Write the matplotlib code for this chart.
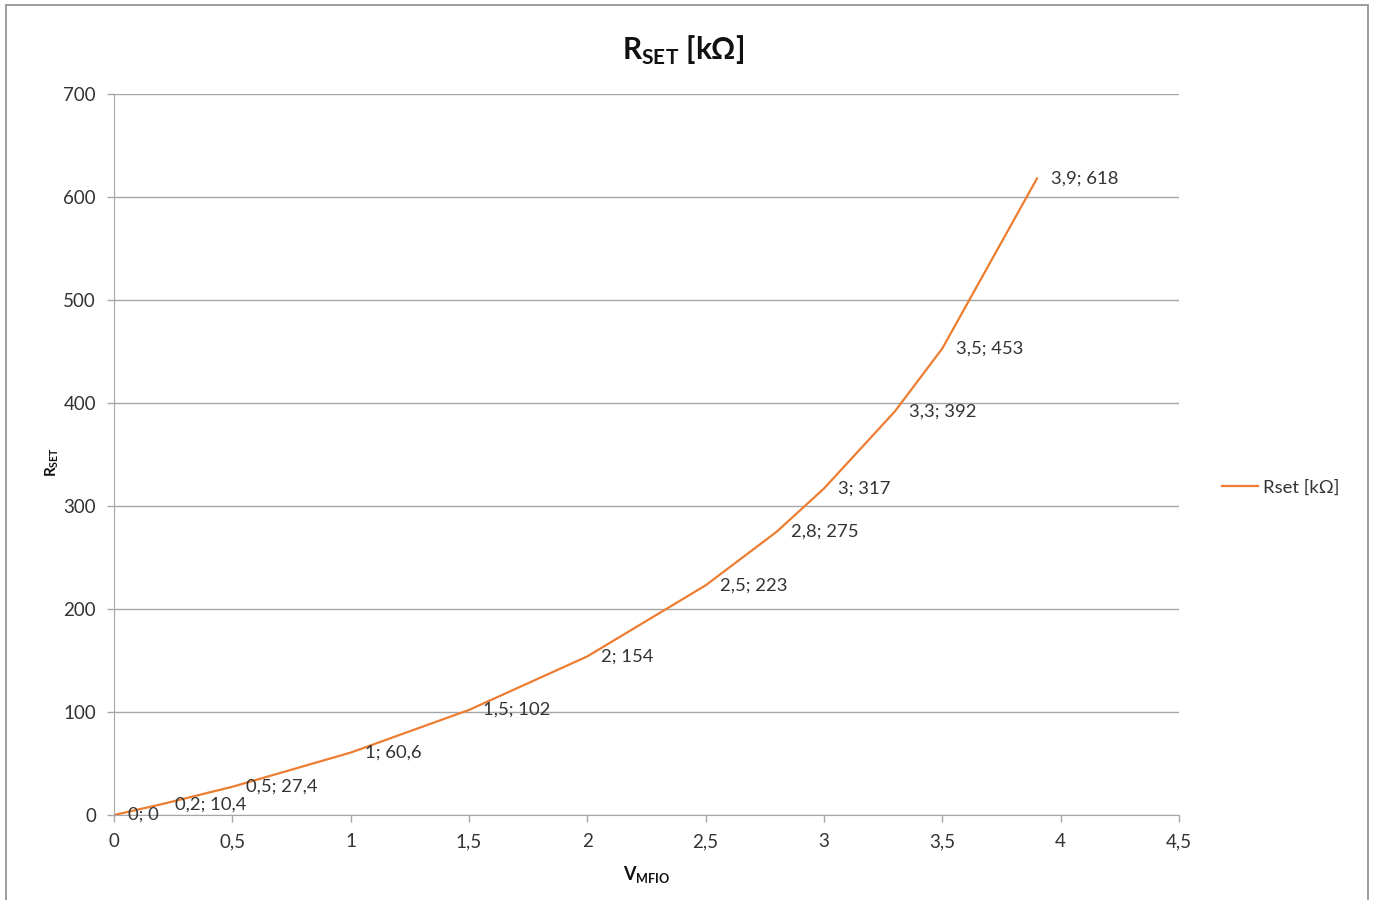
import matplotlib
matplotlib.use("Agg")
import matplotlib.pyplot as plt
from matplotlib.patches import Rectangle
from matplotlib.ticker import FuncFormatter, MultipleLocator

# dati (V_MFIO, R_SET in kOhm)
v_mfio = [0, 0.2, 0.5, 1, 1.5, 2, 2.5, 2.8, 3, 3.3, 3.5, 3.9]
r_set = [0, 10.4, 27.4, 60.6, 102, 154, 223, 275, 317, 392, 453, 618]
serie_nome = "Rset [kΩ]"

plt.rcParams['font.family'] = ['Lato', 'DejaVu Sans']
plt.rcParams['mathtext.fontset'] = 'custom'
plt.rcParams['mathtext.rm'] = 'Lato'
plt.rcParams['mathtext.bf'] = 'Lato:bold'

testo = '#333333'
griglia = '#a6a6a6'
arancio = '#ed7d31'


def virgola(v, pos=None):
    return ('%g' % v).replace('.', ',')


fig = plt.figure(figsize=(13.73, 9.0), dpi=100)
ax = fig.add_axes([114/1373, 1 - 815/900, (1179 - 114)/1373, (815 - 94)/900])

ax.plot(v_mfio, r_set, color=arancio, lw=1.6, label=serie_nome)

for x, y in zip(v_mfio, r_set):
    ax.annotate(virgola(x) + '; ' + virgola(y), (x, y), xytext=(10, 0),
                textcoords='offset points', va='center', ha='left',
                fontsize=13.3, color=testo)

ax.set_xlim(0, 4.5)
ax.set_ylim(0, 700)
ax.xaxis.set_major_locator(MultipleLocator(0.5))
ax.yaxis.set_major_locator(MultipleLocator(100))
ax.xaxis.set_major_formatter(FuncFormatter(virgola))
ax.yaxis.set_major_formatter(FuncFormatter(virgola))
ax.tick_params(axis='both', colors=griglia, labelcolor=testo, labelsize=13.5,
               length=5, width=1, direction='out')
ax.tick_params(axis='x', pad=8)
ax.tick_params(axis='y', pad=8)
ax.grid(axis='y', color=griglia, lw=1)
ax.set_axisbelow(True)
for s in ['top', 'right']:
    ax.spines[s].set_visible(False)
for s in ['left', 'bottom']:
    ax.spines[s].set_color(griglia)

fig.text(683/1373, 1 - 50/900, r'R$_{\mathbf{SET}}$ [kΩ]', fontsize=21.5,
         fontweight='bold', color='#111111', ha='center', va='center')
ax.set_xlabel(r'V$_{\mathbf{MFIO}}$', fontsize=13, fontweight='bold',
              color='#111111', labelpad=10)
ax.set_ylabel(r'R$_{\mathbf{SET}}$', fontsize=11, fontweight='bold',
              color='#111111')
ax.yaxis.set_label_coords((61 - 114)/1065, 0.49)

ax.legend(loc='center left', bbox_to_anchor=((1205 - 114)/1065, 0.454),
          frameon=False, fontsize=13.3, handlelength=1.95, handletextpad=0.3,
          labelcolor=testo)

# cornice del grafico
fig.patches.append(Rectangle((6/1373, -0.02), (1368 - 6)/1373, 1.02 - 5/900,
                             transform=fig.transFigure, fill=False,
                             edgecolor='#8c8c8c', lw=1.2))

fig.savefig('out.png', dpi=100)
